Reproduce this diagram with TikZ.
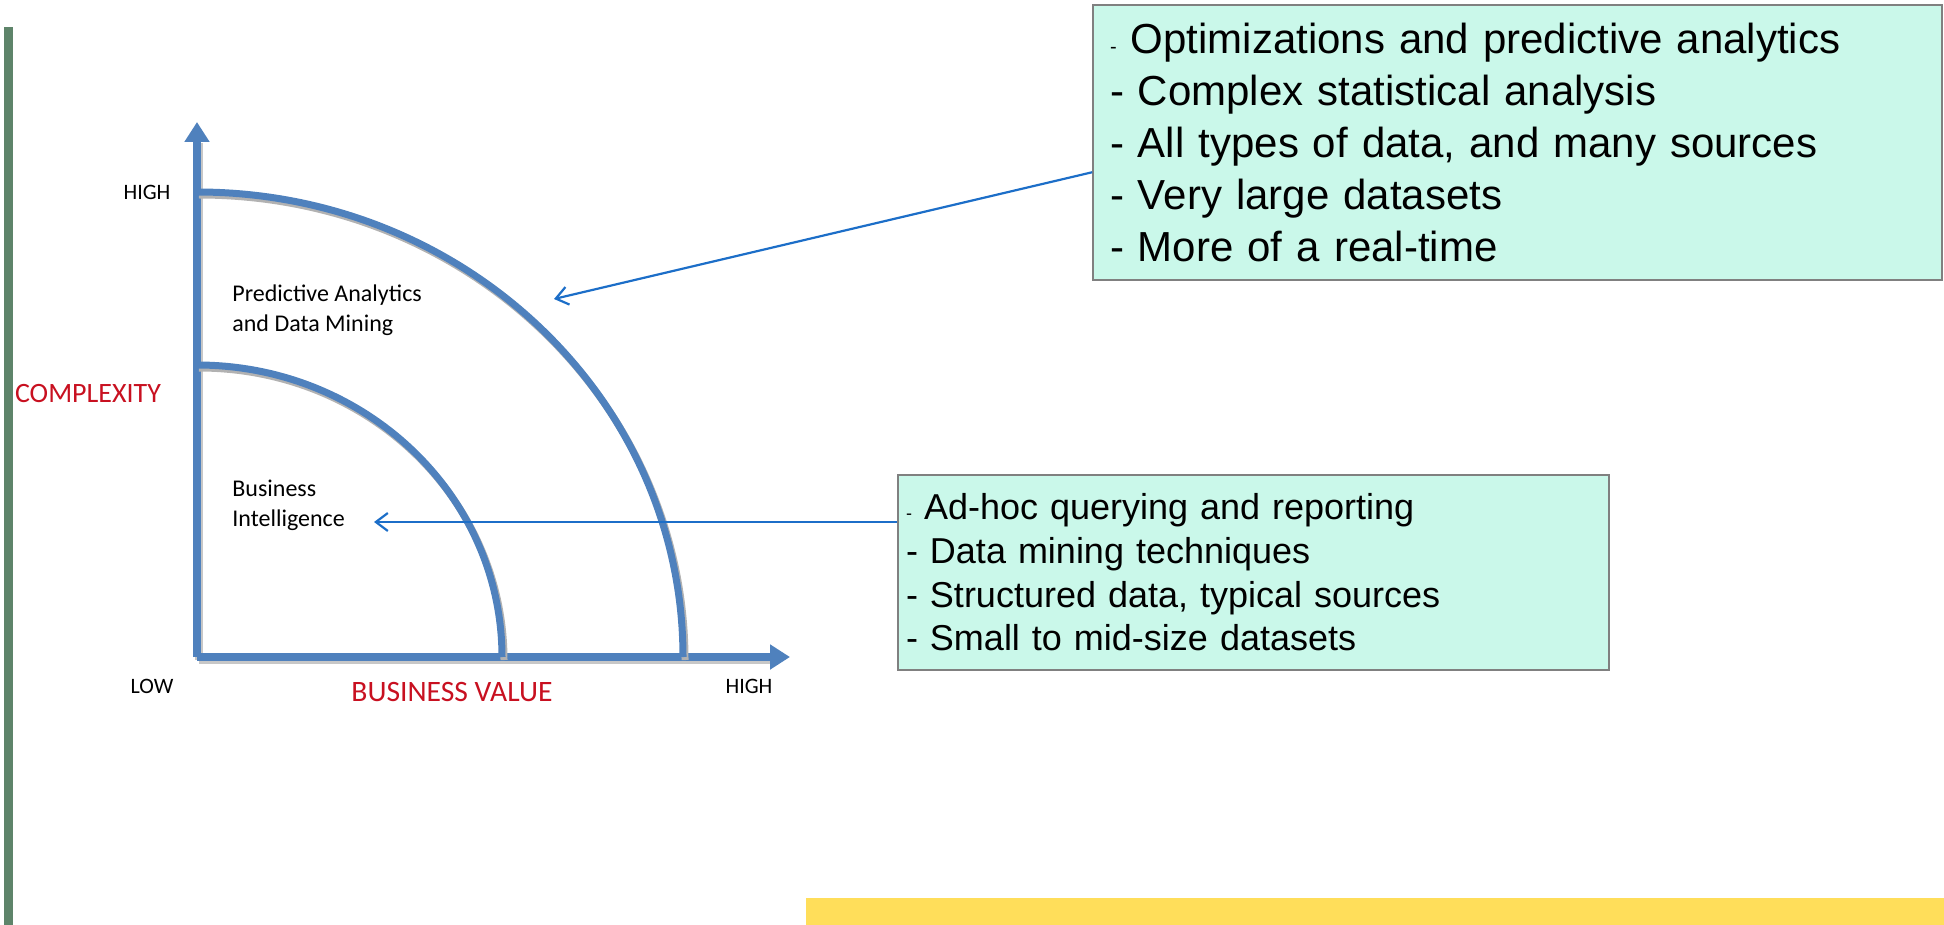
\documentclass[tikz,border=0pt]{standalone}
\usepackage{xcolor}
\usepackage{fontspec}
\setmainfont{Carlito}
\newfontfamily\boxfont{Liberation Sans}
\usetikzlibrary{arrows.meta}

\definecolor{axisblue}{RGB}{79,129,189}
\definecolor{linkblue}{RGB}{28,110,200}
\definecolor{boxmint}{RGB}{202,248,234}
\definecolor{labelred}{RGB}{200,16,32}
\definecolor{bargreen}{RGB}{94,132,106}
\definecolor{baryellow}{RGB}{255,222,90}

\begin{document}
\begin{tikzpicture}[x=0.5pt,y=0.5pt,yscale=-1,xscale=1,
	axisline/.style={draw=axisblue,line width=4pt,-{Triangle[length=10pt,width=12pt]}},
	axisshadow/.style={draw=black!22,line width=4pt},
	curveline/.style={draw=axisblue,line width=3.5pt},
	curveshadow/.style={draw=black!30,line width=3.5pt},
	link/.style={draw=linkblue,line width=1.1pt,-{Straight Barb[length=6pt,width=9pt]}},
	infobox/.style={draw=black!50,line width=0.8pt,fill=boxmint,inner ysep=0pt,align=left,font=\boxfont},
	tag/.style={inner sep=0pt,font=\fontsize{11}{15}\selectfont},
	zonetag/.style={inner sep=0pt,anchor=west,align=left,font=\fontsize{12}{15}\selectfont},
	axistitle/.style={inner sep=0pt,text=labelred,font=\fontsize{14}{16}\selectfont}]
	
	\useasboundingbox (0,0) rectangle (1944,925);
	
	%Shape: Rectangle [side bar]
	\fill[bargreen] (4,27) rectangle (13,925);
	%Shape: Rectangle [foot bar]
	\fill[baryellow] (806,898) rectangle (1944,925);
	
	% Axes
	\coordinate (origin) at (197,657);
	\coordinate (ytip) at (197,122);
	\coordinate (xtip) at (790,657);
	\draw[axisshadow] ([shift={(2,3)}]origin) -- ([shift={(2,3)}]ytip |- 0,140);
	\draw[axisshadow] ([shift={(2,3)}]origin) -- ([shift={(-16,3)}]xtip);
	\draw[axisline] (origin) -- (ytip);
	\draw[axisline] (origin) -- (xtip);
	
	%Shape: Arc [outer]
	\draw[curveshadow] (199,195) arc[start angle=-90,end angle=0,x radius=486,y radius=465];
	\draw[curveline] (197,192) arc[start angle=-90,end angle=0,x radius=486,y radius=465];
	%Shape: Arc [inner]
	\draw[curveshadow] (199,368) arc[start angle=-90,end angle=0,x radius=305,y radius=292];
	\draw[curveline] (197,365) arc[start angle=-90,end angle=0,x radius=305,y radius=292];
	
	% Text Node
	\node[tag] (yhigh) at (147,192) {HIGH};
	% Text Node
	\node[tag] (xlow) at (152,686) {LOW};
	% Text Node
	\node[tag] (xhigh) at (749,686) {HIGH};
	% Text Node
	\node[axistitle] (ytitle) at (88,394) {COMPLEXITY};
	% Text Node
	\node[axistitle,font=\fontsize{14.8}{16}\selectfont] (xtitle) at (452,692) {BUSINESS VALUE};
	% Text Node
	\node[zonetag] (palabel) at (232,310) {Predictive Analytics\\and Data Mining};
	% Text Node
	\node[zonetag] (bilabel) at (232,505.5) {Business\\Intelligence};
	
	%Shape: Rectangle [advanced box]
	\node[infobox,inner xsep=8.5pt,text width=407.5pt,minimum width=424.5pt,minimum height=137.5pt,
		font=\boxfont\fontsize{21}{25.9}\selectfont] (advbox) at (1517.5,142.5)
		{{\fontsize{10}{10}\selectfont -} Optimizations and predictive analytics\\
		- Complex statistical analysis\\
		- All types of data, and many sources\\
		- Very large datasets\\
		- More of a real-time};
	%Shape: Rectangle [basic box]
	\node[infobox,inner xsep=4pt,text width=347.5pt,minimum width=355.5pt,minimum height=97.5pt,
		font=\boxfont\fontsize{18}{21.8}\selectfont] (basicbox) at (1253.5,572.5)
		{{\fontsize{9}{9}\selectfont -} Ad-hoc querying and reporting\\
		- Data mining techniques\\
		- Structured data, typical sources\\
		- Small to mid-size datasets};
	
	%Straight Lines [links]
	\coordinate (paend) at (554,299);
	\coordinate (biend) at (374,522);
	\draw[link] (advbox.184) -- (paend);
	\draw[link] (basicbox.west |- biend) -- (biend);
\end{tikzpicture}
\end{document}
